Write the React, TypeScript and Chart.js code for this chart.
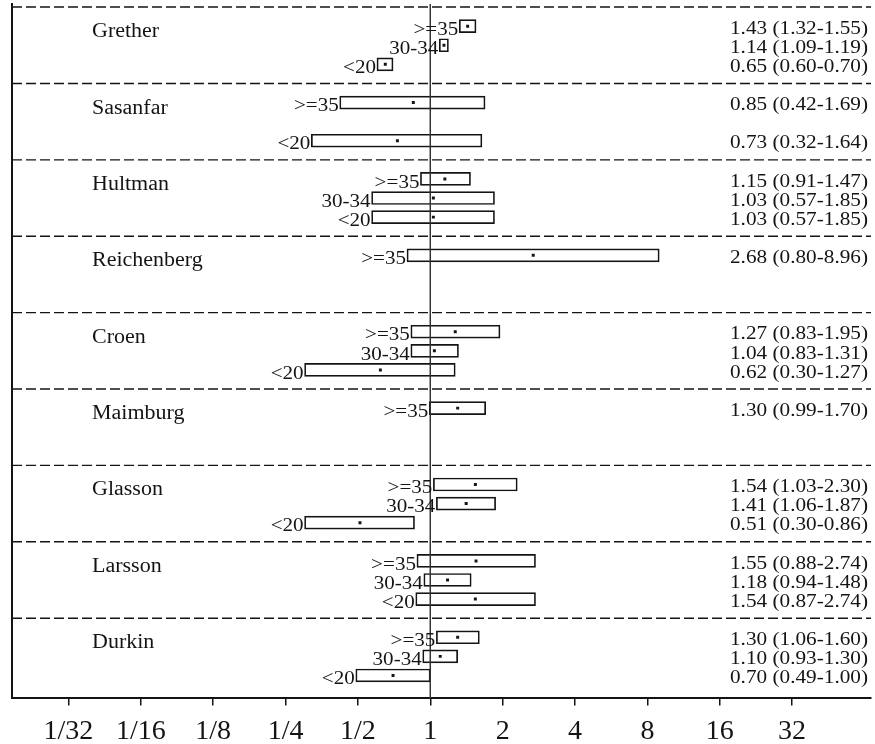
import React, { useEffect, useRef } from 'react';
import { Chart, registerables } from 'chart.js';

Chart.register(...registerables);

// ---------- data ----------
const studyNames = ['Grether', 'Sasanfar', 'Hultman', 'Reichenberg', 'Croen', 'Maimburg', 'Glasson', 'Larsson', 'Durkin'];
const ageGroups = ['>=35', '30-34', '<20'];
const rowStudy = [0, 0, 0, 1, 1, 2, 2, 2, 3, 4, 4, 4, 5, 6, 6, 6, 7, 7, 7, 8, 8, 8];
const rowAge = [0, 1, 2, 0, 2, 0, 1, 2, 0, 0, 1, 2, 0, 0, 1, 2, 0, 1, 2, 0, 1, 2];
const rowOR = [1.43, 1.14, 0.65, 0.85, 0.73, 1.15, 1.03, 1.03, 2.68, 1.27, 1.04, 0.62, 1.30, 1.54, 1.41, 0.51, 1.55, 1.18, 1.54, 1.30, 1.10, 0.70];
const rowLow = [1.32, 1.09, 0.60, 0.42, 0.32, 0.91, 0.57, 0.57, 0.80, 0.83, 0.83, 0.30, 0.99, 1.03, 1.06, 0.30, 0.88, 0.94, 0.87, 1.06, 0.93, 0.49];
const rowHigh = [1.55, 1.19, 0.70, 1.69, 1.64, 1.47, 1.85, 1.85, 8.96, 1.95, 1.31, 1.27, 1.70, 2.30, 1.87, 0.86, 2.74, 1.48, 2.74, 1.60, 1.30, 1.00];
const tickValues = [1 / 32, 1 / 16, 1 / 8, 1 / 4, 1 / 2, 1, 2, 4, 8, 16, 32];
const tickLabels = ['1/32', '1/16', '1/8', '1/4', '1/2', '1', '2', '4', '8', '16', '32'];
const referenceValue = 1;

// ---------- layout constants ----------
const X_MIN = Math.pow(2, -5.78);
const X_MAX = Math.pow(2, 6.09);
const GROUP_SIZE = 4;
const Y_MIN = -0.16;
const Y_MAX = 36.2;
const FONT = '"Liberation Serif", "Times New Roman", serif';
const INK = '#141414';

const rowY = (i: number) => rowStudy[i] * GROUP_SIZE + rowAge[i] + 1;
const fmt = (v: number) => v.toFixed(2);

const textPlugin = {
  id: 'forestText',
  afterDatasetsDraw(chart: any) {
    const { ctx, chartArea, scales } = chart;
    const x = scales.x;
    const y = scales.y;
    const draw = (t: string, px: number, py: number, size: number, sx: number, align: CanvasTextAlign) => {
      ctx.save();
      ctx.fillStyle = INK;
      ctx.font = `${size}px ${FONT}`;
      ctx.textAlign = align;
      ctx.textBaseline = 'middle';
      ctx.translate(px, py);
      ctx.scale(sx, 1);
      ctx.fillText(t, 0, 0);
      ctx.restore();
    };
    studyNames.forEach((name, k) => {
      draw(name, chartArea.left + 80, y.getPixelForValue(k * GROUP_SIZE + 1.3), 20, 1.1, 'left');
    });
    rowOR.forEach((or, i) => {
      const py = y.getPixelForValue(rowY(i));
      draw(ageGroups[rowAge[i]], x.getPixelForValue(rowLow[i]) - 1, py + 4, 18, 1.17, 'right');
      draw(`${fmt(or)} (${fmt(rowLow[i])}-${fmt(rowHigh[i])})`, chartArea.right - 3, py + 3, 18, 1.18, 'right');
    });
  },
};

export default function App() {
  const canvasRef = useRef<HTMLCanvasElement | null>(null);

  useEffect(() => {
    if (!canvasRef.current) return;

    const separatorData: any[] = [];
    studyNames.forEach((_, k) => {
      separatorData.push({ x: X_MIN, y: k * GROUP_SIZE });
      separatorData.push({ x: X_MAX, y: k * GROUP_SIZE });
      separatorData.push({ x: X_MAX, y: null });
    });

    const chart = new Chart(canvasRef.current, {
      type: 'bar',
      data: {
        datasets: [
          {
            type: 'line',
            data: [
              { x: referenceValue, y: Y_MIN },
              { x: referenceValue, y: Y_MAX },
            ],
            borderColor: '#333',
            borderWidth: 1.5,
            pointRadius: 0,
            order: 0,
          } as any,
          {
            type: 'scatter',
            data: rowOR.map((v, i) => ({ x: v, y: rowY(i) })),
            pointStyle: 'rect',
            pointRadius: 2.1,
            backgroundColor: INK,
            borderColor: INK,
            borderWidth: 0,
            order: 1,
          } as any,
          {
            type: 'bar',
            data: rowOR.map((_, i) => ({ x: [rowLow[i], rowHigh[i]], y: rowY(i) })),
            backgroundColor: '#ffffff',
            borderColor: INK,
            borderWidth: 1.7,
            borderSkipped: false,
            barThickness: 13,
            order: 2,
          } as any,
          {
            type: 'line',
            data: separatorData,
            borderColor: INK,
            borderWidth: 1.4,
            borderDash: [10, 4],
            pointRadius: 0,
            spanGaps: false,
            order: 3,
          } as any,
        ],
      },
      options: {
        indexAxis: 'y',
        animation: false,
        responsive: false,
        events: [],
        layout: { padding: { left: 12, right: 0, top: 0, bottom: 0 } },
        plugins: {
          legend: { display: false },
          tooltip: { enabled: false },
        },
        scales: {
          x: {
            type: 'logarithmic',
            position: 'bottom',
            min: X_MIN,
            max: X_MAX,
            offset: false,
            afterBuildTicks: (scale: any) => {
              scale.ticks = tickValues.map((v) => ({ value: v }));
            },
            ticks: {
              autoSkip: false,
              maxRotation: 0,
              padding: 9,
              color: INK,
              font: { family: FONT, size: 28 },
              callback: (_v: any, idx: number) => tickLabels[idx],
            },
            grid: {
              display: true,
              drawOnChartArea: false,
              drawTicks: true,
              tickLength: 7,
              color: INK,
              lineWidth: 1.5,
              offset: false,
            },
            border: { display: true, color: INK, width: 2 },
          },
          y: {
            type: 'linear',
            position: 'left',
            min: Y_MIN,
            max: Y_MAX,
            reverse: true,
            offset: false,
            ticks: { display: false },
            grid: { display: false, drawTicks: false, offset: false },
            border: { display: true, color: INK, width: 2 },
          },
        },
      } as any,
      plugins: [textPlugin],
    });

    return () => chart.destroy();
  }, []);

  return (
    <div style={{ position: 'absolute', left: 0, top: 0, width: 875, height: 744, overflow: 'hidden', background: '#fff' }}>
      <canvas ref={canvasRef} width={875} height={757} style={{ display: 'block' }} />
    </div>
  );
}
